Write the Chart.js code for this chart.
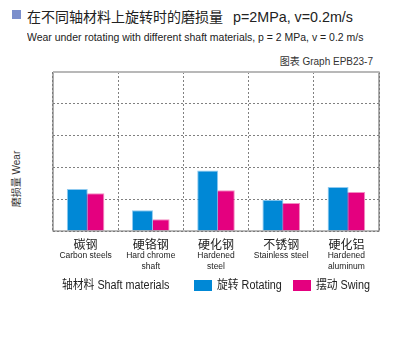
<!DOCTYPE html>
<html><head><meta charset="utf-8">
<script src="https://cdn.jsdelivr.net/npm/chart.js@4"></script>
<style>
html,body{margin:0;padding:0;background:#fff;}
#wrap{position:relative;width:400px;height:360px;overflow:hidden;font-family:"Liberation Sans","Noto Sans CJK SC",sans-serif;color:#222;}
#chartBox{position:absolute;left:0;top:0;width:400px;height:300px;}
.t{position:absolute;white-space:nowrap;}
#sq{position:absolute;left:12px;top:10px;width:9px;height:9px;background:#7b8fcc;}
#title{left:27px;top:8px;font-size:14px;line-height:18px;}
#title span{font-size:14.3px;margin-left:10px;}
#sub{left:27px;top:30px;font-size:11.5px;line-height:14px;transform:scaleX(0.91);transform-origin:0 0;}
#graph{right:27px;top:56px;font-size:10px;line-height:12px;color:#333;}
#ytitle{left:17px;top:179px;font-size:10px;line-height:12px;color:#333;transform:translate(-50%,-50%) rotate(-90deg);}
#legend{position:absolute;left:62px;top:278px;font-size:12px;line-height:14px;}
.lg{position:absolute;top:0;white-space:nowrap;transform:scaleX(0.9);transform-origin:0 0;}
.box{position:absolute;top:2px;width:18px;height:11px;}
</style></head>
<body><div id="wrap">
<div id="sq"></div>
<div class="t" id="title">在不同轴材料上旋转时的磨损量<span>p=2MPa, v=0.2m/s</span></div>
<div class="t" id="sub">Wear under rotating with different shaft materials, p = 2 MPa, v = 0.2 m/s</div>
<div class="t" id="graph">图表 Graph EPB23-7</div>
<div class="t" id="ytitle">磨损量 Wear</div>
<div id="chartBox"><canvas id="c"></canvas></div>
<div id="legend"></div>
</div>
<script>
const categoriesCN = ["碳钢","硬铬钢","硬化钢","不锈钢","硬化铝"];
const categoriesEN = [["Carbon steels"],["Hard chrome","shaft"],["Hardened","steel"],["Stainless steel"],["Hardened","aluminum"]];
const seriesNames = ["旋转 Rotating","摆动 Swing"];
const rotating = [1.32, 0.65, 1.90, 0.98, 1.38];
const swing = [1.19, 0.37, 1.28, 0.88, 1.23];
const axisLabel = "轴材料 Shaft materials";

const colors = ["#0088d6","#e4007f"];
const edge = ["#8fcaf0","#f28cc2"];

// legend (HTML)
const lg = document.getElementById('legend');
const lt = document.createElement('div'); lt.className='lg'; lt.style.left='0px'; lt.textContent=axisLabel; lg.appendChild(lt);
const pos = [[132,155],[231,254]];
seriesNames.forEach((n,i)=>{
  const b=document.createElement('div'); b.className='box'; b.style.left=pos[i][0]+'px'; b.style.background=colors[i]; lg.appendChild(b);
  const t=document.createElement('div'); t.className='lg'; t.style.left=pos[i][1]+'px'; t.textContent=n; lg.appendChild(t);
});

const frame = {
  id:'frame',
  afterDatasetsDraw(chart){
    const {ctx, chartArea:a} = chart;
    ctx.save();
    ctx.strokeStyle='#777'; ctx.lineWidth=1.2;
    ctx.beginPath();
    ctx.moveTo(a.left, a.top); ctx.lineTo(a.left, a.bottom); ctx.lineTo(a.right, a.bottom); ctx.lineTo(a.right, a.top);
    ctx.stroke();
    ctx.strokeStyle='#b8b8b8'; ctx.lineWidth=2;
    ctx.beginPath(); ctx.moveTo(a.left, a.top); ctx.lineTo(a.right+0.6, a.top); ctx.stroke();
    ctx.restore();
  }
};

new Chart(document.getElementById('c'), {
  type:'bar',
  data:{
    labels: categoriesCN,
    datasets:[
      {label:seriesNames[0], data:rotating, backgroundColor:colors[0], borderColor:edge[0], borderWidth:1, xAxisID:'x'},
      {label:seriesNames[1], data:swing, backgroundColor:colors[1], borderColor:edge[1], borderWidth:1, xAxisID:'x'}
    ]
  },
  options:{
    responsive:true, maintainAspectRatio:false, animation:false,
    datasets:{bar:{categoryPercentage:0.51, barPercentage:1.26}},
    layout:{padding:{left:53, right:21, top:72, bottom:9}},
    plugins:{legend:{display:false}, tooltip:{enabled:false}},
    scales:{
      y:{min:0,max:5,ticks:{display:false,stepSize:1},
         grid:{color:'#808080', lineWidth:1, drawTicks:false},
         border:{display:false, dash:[2,2]}},
      x:{position:'bottom', offset:true,
         grid:{offset:true, color:'#808080', lineWidth:1, drawTicks:false},
         border:{display:false, dash:[2,2]},
         ticks:{padding:6, color:'#222', font:{size:12, family:"'Noto Sans CJK SC','Liberation Sans',sans-serif"}},
         afterFit(s){ s.height=19; }},
      x2:{position:'bottom', type:'category', labels:categoriesEN, offset:true,
         grid:{display:false, drawTicks:false}, border:{display:false},
         ticks:{padding:0, color:'#222', font:{size:8.5, family:"'Liberation Sans',sans-serif", lineHeight:1.3}},
         afterFit(s){ s.height=41; }}
    }
  },
  plugins:[frame]
});
</script>
</body></html>
